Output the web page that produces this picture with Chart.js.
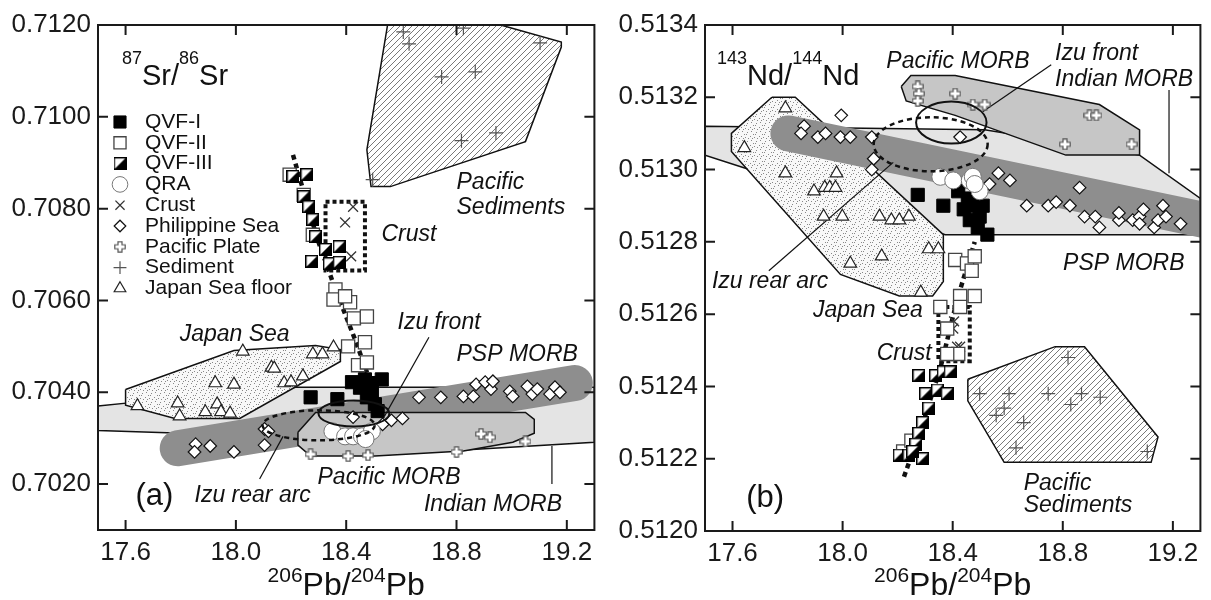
<!DOCTYPE html>
<html>
<head>
<meta charset="utf-8">
<script src="https://cdn.jsdelivr.net/npm/chart.js@4.4.0/dist/chart.umd.min.js"></script>
<style>
  body { margin: 0; background: #fff; }
  #wrap { position: relative; width: 1211px; height: 600px; }
  .panel { position: absolute; top: 0; height: 600px; }
</style>
</head>
<body>
<div id="wrap">
  <div class="panel" style="left:0;width:605px"><canvas id="chartA"></canvas></div>
  <div class="panel" style="left:605px;width:606px"><canvas id="chartB"></canvas></div>
</div>
<script>
// ---- axis ticks ----
const xTicks = [17.6, 18.0, 18.4, 18.8, 19.2];
const yTicksA = [0.7020, 0.7040, 0.7060, 0.7080, 0.7100, 0.7120];
const yTicksB = [0.5120, 0.5122, 0.5124, 0.5126, 0.5128, 0.5130, 0.5132, 0.5134];

// ---- panel (a): 206Pb/204Pb vs 87Sr/86Sr ----
const qvf1A = [[18.271,0.70389],[18.368,0.70385],[18.421,0.70422],[18.468,0.70428],[18.529,0.70428],[18.493,0.70400],[18.504,0.70374],[18.475,0.70389],[18.514,0.70359],[18.45,0.70410],[18.49,0.70420]];
const qvf2A = [[18.361,0.70624],[18.354,0.70602],[18.414,0.70596],[18.428,0.70561],[18.475,0.70565],[18.407,0.70500],[18.468,0.70509],[18.443,0.70459],[18.475,0.70465],[18.396,0.70609],[18.195,0.70874],[18.246,0.70830],[18.279,0.70743]];
const qvf3A = [[18.207,0.70870],[18.257,0.70874],[18.246,0.70826],[18.264,0.70804],[18.279,0.70776],[18.289,0.70739],[18.275,0.70685],[18.325,0.70711],[18.375,0.70717],[18.339,0.70680],[18.375,0.70683]];
const qraA = [[18.350,0.70315],[18.396,0.70304],[18.425,0.70304],[18.457,0.70304],[18.493,0.70315],[18.470,0.70298]];
const crustA = [[18.425,0.70804],[18.396,0.70770],[18.418,0.70696]];
const philA = [[17.854,0.70287],[17.850,0.70270],[17.907,0.70283],[17.993,0.70270],[18.104,0.70285],[18.104,0.70320],[18.118,0.70315],[18.425,0.70346],[18.532,0.70330],[18.564,0.70339],[18.604,0.70343],[18.664,0.70389],[18.743,0.70389],[18.825,0.70391],[18.861,0.70391],[18.871,0.70417],[18.904,0.70422],[18.925,0.70407],[18.932,0.70424],[18.993,0.70402],[19.004,0.70391],[19.057,0.70413],[19.075,0.70396],[19.093,0.70407],[19.139,0.70396],[19.157,0.70411],[19.175,0.70400]];
const pacPlateA = [[18.271,0.70265],[18.407,0.70261],[18.479,0.70263],[18.800,0.70270],[18.889,0.70309],[18.921,0.70302],[19.050,0.70293]];
const sedA = [[18.607,0.71185],[18.628,0.71159],[18.825,0.71193],[18.746,0.71087],[18.868,0.71098],[18.818,0.70948],[18.943,0.70965],[19.103,0.71161],[18.496,0.70863]];
const jsfA = [[17.643,0.70370],[17.789,0.70376],[17.796,0.70348],[17.889,0.70357],[17.932,0.70374],[17.946,0.70357],[17.979,0.70354],[17.925,0.70420],[17.993,0.70417],[18.025,0.70489],[18.129,0.70454],[18.139,0.70452],[18.175,0.70420],[18.200,0.70422],[18.243,0.70435],[18.279,0.70483],[18.314,0.70483],[18.354,0.70498]];

const sedFieldA = [[18.55,0.71200],[18.96,0.71200],[19.18,0.71163],[19.18,0.71152],[19.05,0.70946],[18.56,0.70848],[18.49,0.70848],[18.475,0.70928]];
const japanFieldA = [[17.60,0.70406],[17.993,0.70491],[18.289,0.70502],[18.379,0.70493],[18.379,0.70467],[18.014,0.70343],[17.779,0.70343],[17.60,0.70372]];
const indianFieldA = [[17.5,0.70370],[17.629,0.70378],[18.218,0.70411],[19.3,0.70411],[19.3,0.70291],[18.504,0.70263],[18.218,0.70298],[17.75,0.70312],[17.5,0.70317]];
const pacFieldA = [[18.225,0.70313],[18.289,0.70356],[19.050,0.70356],[19.082,0.70341],[19.082,0.70311],[19.004,0.70291],[18.825,0.70272],[18.504,0.70261],[18.271,0.70261],[18.225,0.70285]];
const pspBandA = [[17.789,0.70278],[19.229,0.70420]];
const crustBoxA = [[18.325,0.70815],[18.468,0.70815],[18.468,0.70665],[18.325,0.70665]];
const trendA = [[18.207,0.70917],[18.296,0.70733],[18.361,0.70624],[18.432,0.70515],[18.504,0.70396]];
const izuFrontA = [18.428, 0.70354, 0.1286, 0.000283];
const izuRearA = [18.300, 0.70328, 0.2035, 0.000326];
const leadersA = [[[18.700,0.70520],[18.539,0.70348]], [[18.086,0.70211],[18.171,0.70304]], [[19.146,0.70283],[19.146,0.70200]]];

// ---- panel (b): 206Pb/204Pb vs 143Nd/144Nd ----
const qvf1B = [[18.273,0.51293],[18.366,0.51290],[18.420,0.51294],[18.455,0.51292],[18.480,0.51290],[18.509,0.51290],[18.462,0.51286],[18.498,0.51287],[18.491,0.51284],[18.526,0.51282],[18.440,0.51289]];
const qvf2B = [[18.409,0.51275],[18.452,0.51274],[18.480,0.51276],[18.469,0.51272],[18.427,0.51265],[18.480,0.51265],[18.355,0.51262],[18.427,0.51262],[18.380,0.51256],[18.420,0.51249],[18.380,0.51249],[18.220,0.51222],[18.250,0.51225]];
const qvf3B = [[18.277,0.51243],[18.338,0.51243],[18.366,0.51244],[18.391,0.51244],[18.302,0.51238],[18.345,0.51239],[18.380,0.51238],[18.313,0.51234],[18.291,0.51230],[18.277,0.51227],[18.266,0.51224],[18.206,0.51221],[18.241,0.51221],[18.291,0.51220],[18.255,0.51222]];
const qraB = [[18.355,0.51298],[18.402,0.51297],[18.462,0.51297],[18.473,0.51298],[18.498,0.51294],[18.480,0.51296]];
const crustB = [[18.405,0.51258],[18.402,0.51256],[18.416,0.51251],[18.427,0.51251]];
const philB = [[17.860,0.51312],[17.849,0.51310],[17.910,0.51309],[17.938,0.51310],[17.995,0.51315],[17.992,0.51309],[18.028,0.51309],[18.106,0.51309],[18.113,0.51303],[18.106,0.51300],[18.427,0.51309],[18.566,0.51299],[18.608,0.51297],[18.534,0.51296],[18.669,0.51290],[18.747,0.51290],[18.776,0.51291],[18.826,0.51290],[18.861,0.51295],[18.879,0.51287],[18.918,0.51287],[18.933,0.51284],[19.004,0.51286],[19.004,0.51288],[19.054,0.51286],[19.079,0.51287],[19.093,0.51289],[19.079,0.51285],[19.132,0.51284],[19.146,0.51286],[19.164,0.51290],[19.175,0.51287],[19.228,0.51285]];
const pacPlateB = [[18.273,0.51323],[18.277,0.51321],[18.273,0.51319],[18.409,0.51321],[18.473,0.51318],[18.516,0.51318],[18.897,0.51315],[18.922,0.51315],[18.808,0.51307],[19.050,0.51307]];
const sedB = [[18.498,0.51238],[18.605,0.51238],[18.587,0.51234],[18.558,0.51232],[18.658,0.51230],[18.747,0.51238],[18.819,0.51248],[18.868,0.51238],[18.829,0.51235],[18.936,0.51237],[18.630,0.51223],[19.107,0.51222]];
const jsfB = [[17.792,0.51317],[17.643,0.51306],[17.792,0.51299],[17.978,0.51299],[17.896,0.51294],[17.935,0.51295],[17.953,0.51295],[17.974,0.51295],[17.931,0.51287],[17.999,0.51287],[18.134,0.51287],[18.177,0.51286],[18.206,0.51286],[18.028,0.51274],[18.142,0.51276],[18.241,0.51287],[18.313,0.51278],[18.348,0.51278],[18.284,0.51266]];

const sedFieldB = [[18.455,0.51242],[18.772,0.51251],[18.879,0.51251],[19.146,0.51226],[19.121,0.51219],[18.587,0.51219],[18.455,0.51236]];
const japanFieldB = [[17.743,0.51320],[17.828,0.51320],[18.366,0.51282],[18.366,0.51269],[18.327,0.51265],[18.206,0.51265],[17.992,0.51271],[17.596,0.51305],[17.596,0.51310]];
const indianFieldB = [[17.5,0.51312],[18.516,0.51311],[19.079,0.51304],[19.3,0.51292],[19.3,0.51282],[18.373,0.51282],[17.661,0.51300],[17.5,0.51304]];
const pacFieldB = [[18.213,0.51323],[18.248,0.51326],[18.409,0.51326],[18.933,0.51318],[19.079,0.51311],[19.079,0.51304],[18.811,0.51304],[18.409,0.51315],[18.231,0.51319]];
const pspBandB = [[17.803,0.51310],[19.317,0.51286]];
const crustBoxB = [[18.348,0.51262],[18.462,0.51262],[18.462,0.51247],[18.348,0.51247]];
const trendB = [[18.223,0.51215],[18.284,0.51228],[18.355,0.51245],[18.416,0.51264],[18.480,0.51280]];
const izuFrontB = [18.395, 0.51313, 0.128, 0.0000581];
const izuRearB = [18.320, 0.51307, 0.207, 0.0000747];
const leadersB = [[[18.758,0.51329],[18.509,0.51316]], [[19.186,0.51322],[19.186,0.51299]], [[17.732,0.51272],[18.184,0.51302]]];

const legendNames = ['QVF-I', 'QVF-II', 'QVF-III', 'QRA', 'Crust', 'Philippine Sea', 'Pacific Plate', 'Sediment', 'Japan Sea floor'];

// ---- drawing helpers ----
const FONT = "'Liberation Sans', Arial, Helvetica, sans-serif";
const XY = a => a.map(p => ({x: p[0], y: p[1]}));
const closed = a => XY(a.concat([a[0]]));

function halfSquare(size) {
  const c = document.createElement('canvas');
  c.width = c.height = size;
  const g = c.getContext('2d');
  g.fillStyle = '#fff'; g.fillRect(0, 0, size, size);
  g.fillStyle = '#000';
  g.beginPath(); g.moveTo(size, 0); g.lineTo(size, size); g.lineTo(0, size); g.closePath(); g.fill();
  g.strokeStyle = '#000'; g.lineWidth = 1.4;
  g.strokeRect(0.7, 0.7, size - 1.4, size - 1.4);
  return c;
}

function openCross(size) {
  const c = document.createElement('canvas');
  c.width = c.height = size;
  const g = c.getContext('2d');
  const a = size / 3, b = 2 * size / 3, e = 0.8, f = size - 0.8;
  g.beginPath();
  g.moveTo(a, e); g.lineTo(b, e); g.lineTo(b, a); g.lineTo(f, a); g.lineTo(f, b); g.lineTo(b, b);
  g.lineTo(b, f); g.lineTo(a, f); g.lineTo(a, b); g.lineTo(e, b); g.lineTo(e, a); g.lineTo(a, a); g.closePath();
  g.fillStyle = '#fff'; g.fill();
  g.strokeStyle = '#555'; g.lineWidth = 1.2; g.stroke();
  return c;
}

function hatch() {
  const c = document.createElement('canvas');
  c.width = c.height = 6;
  const g = c.getContext('2d');
  g.fillStyle = '#fff'; g.fillRect(0, 0, 6, 6);
  g.strokeStyle = '#6a6a6a'; g.lineWidth = 0.9;
  g.beginPath();
  g.moveTo(-1, 7); g.lineTo(7, -1);
  g.moveTo(-1, 1); g.lineTo(1, -1);
  g.moveTo(5, 7); g.lineTo(7, 5);
  g.stroke();
  return g.createPattern(c, 'repeat');
}

function stipple() {
  const c = document.createElement('canvas');
  c.width = c.height = 9;
  const g = c.getContext('2d');
  g.fillStyle = '#f8f8f8'; g.fillRect(0, 0, 9, 9);
  g.fillStyle = '#888';
  [[1, 1], [5, 2], [2, 5], [7, 6], [4, 8], [8, 3], [3, 3], [6, 8]].forEach(([px, py]) => g.fillRect(px, py, 1, 1));
  return g.createPattern(c, 'repeat');
}

const styles = {
  'QVF-I':   {pointStyle: 'rect', radius: 9.3, backgroundColor: '#000', borderColor: '#000', borderWidth: 1},
  'QVF-II':  {pointStyle: 'rect', radius: 9.3, backgroundColor: '#fff', borderColor: '#444', borderWidth: 1.3},
  'QVF-III': {pointStyle: halfSquare(13), radius: 7, backgroundColor: '#000', borderColor: '#000', borderWidth: 1},
  'QRA':     {pointStyle: 'circle', radius: 8.5, backgroundColor: '#fff', borderColor: '#777', borderWidth: 1},
  'Crust':   {pointStyle: 'crossRot', radius: 7, backgroundColor: '#333', borderColor: '#333', borderWidth: 1.3},
  'Philippine Sea': {pointStyle: 'rectRot', radius: 6.3, backgroundColor: '#fff', borderColor: '#111', borderWidth: 1.2},
  'Pacific Plate':  {pointStyle: openCross(12), radius: 6, backgroundColor: '#fff', borderColor: '#555', borderWidth: 1},
  'Sediment':       {pointStyle: 'cross', radius: 7, backgroundColor: '#555', borderColor: '#555', borderWidth: 1.2},
  'Japan Sea floor': {pointStyle: 'triangle', radius: 7.3, backgroundColor: '#fff', borderColor: '#222', borderWidth: 1.2}
};

function drawRich(ctx, parts, x, y, main, sup, rise, center) {
  const widths = parts.map(p => {
    ctx.font = (p[1] ? sup : main) + 'px ' + FONT;
    return ctx.measureText(p[0]).width;
  });
  let cx = center ? x - widths.reduce((s, w) => s + w, 0) / 2 : x;
  ctx.textAlign = 'left';
  ctx.textBaseline = 'alphabetic';
  parts.forEach((p, i) => {
    ctx.font = (p[1] ? sup : main) + 'px ' + FONT;
    ctx.fillText(p[0], cx, p[1] ? y - rise : y);
    cx += widths[i];
  });
}

const decor = {
  id: 'decor',
  afterDatasetsDraw(chart, args, o) {
    const {ctx, chartArea: a, scales: {x, y}} = chart;
    ctx.save();
    ctx.strokeStyle = '#111';
    ctx.fillStyle = '#111';
    // ellipses
    o.ellipses.forEach(([e, dash, lw]) => {
      const cx = x.getPixelForValue(e[0]), cy = y.getPixelForValue(e[1]);
      const rx = Math.abs(x.getPixelForValue(e[0] + e[2]) - cx);
      const ry = Math.abs(y.getPixelForValue(e[1] + e[3]) - cy);
      ctx.beginPath();
      ctx.setLineDash(dash);
      ctx.lineWidth = lw;
      ctx.ellipse(cx, cy, rx, ry, 0, 0, Math.PI * 2);
      ctx.stroke();
    });
    ctx.setLineDash([]);
    // italic field labels
    ctx.textBaseline = 'middle';
    ctx.textAlign = 'left';
    o.labels.forEach(([t, lx, ly, f]) => {
      ctx.font = (f || 'italic 23px') + ' ' + FONT;
      ctx.fillText(t, x.getPixelForValue(lx), y.getPixelForValue(ly));
    });
    // legend
    if (o.legend) {
      o.legend.forEach((name, i) => {
        const s = styles[name];
        const ly = 122 + i * 20.8;
        ctx.fillStyle = s.backgroundColor;
        ctx.strokeStyle = s.borderColor;
        ctx.lineWidth = s.borderWidth;
        Chart.helpers.drawPoint(ctx, {pointStyle: s.pointStyle, radius: s.radius * 0.92, rotation: 0, borderWidth: s.borderWidth}, a.left + 22, ly);
        ctx.fillStyle = '#111';
        ctx.font = '21px ' + FONT;
        ctx.textBaseline = 'middle';
        ctx.fillText(name, a.left + 47, ly);
      });
    }
    // ratio title inside the plot
    ctx.fillStyle = '#111';
    drawRich(ctx, o.ratio, o.ratioX, 85, 29, 18, 21, false);
    // frame and inward ticks
    ctx.strokeStyle = '#1a1a1a';
    ctx.lineWidth = 2;
    ctx.strokeRect(a.left, a.top, a.right - a.left, a.bottom - a.top);
    ctx.beginPath();
    xTicks.forEach(v => {
      const px = x.getPixelForValue(v);
      ctx.moveTo(px, a.bottom); ctx.lineTo(px, a.bottom - 10);
      ctx.moveTo(px, a.top); ctx.lineTo(px, a.top + 10);
    });
    o.yTicks.forEach(v => {
      const py = y.getPixelForValue(v);
      ctx.moveTo(a.left, py); ctx.lineTo(a.left + 10, py);
      ctx.moveTo(a.right, py); ctx.lineTo(a.right - 10, py);
    });
    ctx.stroke();
    // x axis title
    drawRich(ctx, [['206', true], ['Pb/', false], ['204', true], ['Pb', false]], (a.left + a.right) / 2, 595, 32, 21, 13, true);
    ctx.restore();
  }
};

function makeChart(id, P) {
  const datasets = [];
  P.points.forEach(([name, arr], i) => {
    const s = styles[name];
    datasets.push({
      type: 'scatter', label: name, data: XY(arr),
      pointStyle: s.pointStyle, pointRadius: s.radius, pointHoverRadius: s.radius,
      backgroundColor: s.backgroundColor, borderColor: s.borderColor, borderWidth: s.borderWidth,
      order: i + 1
    });
  });
  const line = (data, extra) => Object.assign({type: 'line', data, pointRadius: 0, pointHoverRadius: 0, fill: false, tension: 0}, extra);
  datasets.push(line(XY(P.trend), {borderColor: '#111', borderWidth: 4.5, borderDash: [5, 4], order: 10}));
  datasets.push(line(closed(P.crustBox), {borderColor: '#111', borderWidth: 4, borderDash: [4, 3], order: 11}));
  P.leaders.forEach(l => datasets.push(line(XY(l), {borderColor: '#111', borderWidth: 1.2, order: 12})));
  datasets.push(line(closed(P.pacField), {fill: 'shape', backgroundColor: '#c6c6c6', borderColor: '#111', borderWidth: 1.5, order: 13}));
  datasets.push(line(XY(P.band), {borderColor: '#8e8e8e', borderWidth: 36, borderCapStyle: 'round', clip: 0, order: 14}));
  datasets.push(line(closed(P.sedField), {fill: 'shape', backgroundColor: hatch(), borderColor: '#111', borderWidth: 1.5, order: 15}));
  datasets.push(line(closed(P.japanField), {fill: 'shape', backgroundColor: stipple(), borderColor: '#111', borderWidth: 1.5, order: 16}));
  datasets.push(line(closed(P.indianField), {fill: 'shape', backgroundColor: '#e4e4e4', borderColor: '#111', borderWidth: 1.5, order: 17}));

  return new Chart(document.getElementById(id), {
    type: 'scatter',
    data: {datasets},
    plugins: [decor],
    options: {
      responsive: true,
      maintainAspectRatio: false,
      animation: false,
      events: [],
      layout: {padding: {top: 25, right: P.padRight, left: 0, bottom: 0}},
      plugins: {
        legend: {display: false},
        tooltip: {enabled: false},
        decor: {
          ellipses: P.ellipses, labels: P.labels, legend: P.legend,
          ratio: P.ratio, ratioX: P.ratioX, yTicks: P.yTicks
        }
      },
      scales: {
        x: {
          type: 'linear', min: 17.5, max: 19.3,
          grid: {display: false, drawTicks: false}, border: {display: false},
          ticks: {font: {family: FONT, size: 26}, color: '#1a1a1a', padding: 7, maxRotation: 0, autoSkip: false, callback: v => v.toFixed(1)},
          afterBuildTicks: s => { s.ticks = xTicks.map(v => ({value: v})); },
          afterFit: s => { s.height = P.xHeight; }
        },
        y: {
          type: 'linear', min: P.yMin, max: P.yMax,
          grid: {display: false, drawTicks: false}, border: {display: false},
          ticks: {font: {family: FONT, size: 26}, color: '#1a1a1a', padding: 7, autoSkip: false, callback: v => v.toFixed(4)},
          afterBuildTicks: s => { s.ticks = P.yTicks.map(v => ({value: v})); },
          afterFit: s => { s.width = P.yWidth; }
        }
      }
    }
  });
}

makeChart('chartA', {
  points: [['QRA', qraA], ['QVF-I', qvf1A], ['QVF-III', qvf3A], ['QVF-II', qvf2A], ['Crust', crustA], ['Philippine Sea', philA], ['Japan Sea floor', jsfA], ['Pacific Plate', pacPlateA], ['Sediment', sedA]],
  trend: trendA, crustBox: crustBoxA, leaders: leadersA, pacField: pacFieldA, band: pspBandA,
  sedField: sedFieldA, japanField: japanFieldA, indianField: indianFieldA,
  ellipses: [[izuFrontA, [], 2], [izuRearA, [5, 4], 2.5]],
  labels: [
    ['Pacific', 18.800, 0.70857], ['Sediments', 18.800, 0.70802], ['Crust', 18.528, 0.70743],
    ['Japan Sea', 17.796, 0.70526], ['Izu front', 18.586, 0.70552], ['PSP MORB', 18.800, 0.70483],
    ['Izu rear arc', 17.850, 0.70174], ['Pacific MORB', 18.296, 0.70215], ['Indian MORB', 18.682, 0.70156],
    ['(a)', 17.636, 0.70174, '31px']
  ],
  legend: legendNames,
  ratio: [['87', true], ['Sr/', false], ['86', true], ['Sr', false]], ratioX: 122,
  yTicks: yTicksA, yMin: 0.7010, yMax: 0.7120, yWidth: 98, xHeight: 70, padRight: 2
});

makeChart('chartB', {
  points: [['QRA', qraB], ['QVF-I', qvf1B], ['QVF-III', qvf3B], ['QVF-II', qvf2B], ['Crust', crustB], ['Philippine Sea', philB], ['Japan Sea floor', jsfB], ['Pacific Plate', pacPlateB], ['Sediment', sedB]],
  trend: trendB, crustBox: crustBoxB, leaders: leadersB, pacField: pacFieldB, band: pspBandB,
  sedField: sedFieldB, japanField: japanFieldB, indianField: indianFieldB,
  ellipses: [[izuFrontB, [], 2], [izuRearB, [5, 4], 2.5]],
  labels: [
    ['Pacific MORB', 18.159, 0.51330], ['Izu front', 18.772, 0.51332], ['Indian MORB', 18.772, 0.51325],
    ['PSP MORB', 18.801, 0.51274], ['Izu rear arc', 17.525, 0.51269], ['Japan Sea', 17.892, 0.51261],
    ['Crust', 18.124, 0.51249], ['Pacific', 18.658, 0.51213], ['Sediments', 18.658, 0.51207],
    ['(b)', 17.650, 0.51209, '31px']
  ],
  legend: null,
  ratio: [['143', true], ['Nd/', false], ['144', true], ['Nd', false]], ratioX: 112,
  yTicks: yTicksB, yMin: 0.5120, yMax: 0.5134, yWidth: 100, xHeight: 69, padRight: 1
});
</script>
</body>
</html>
